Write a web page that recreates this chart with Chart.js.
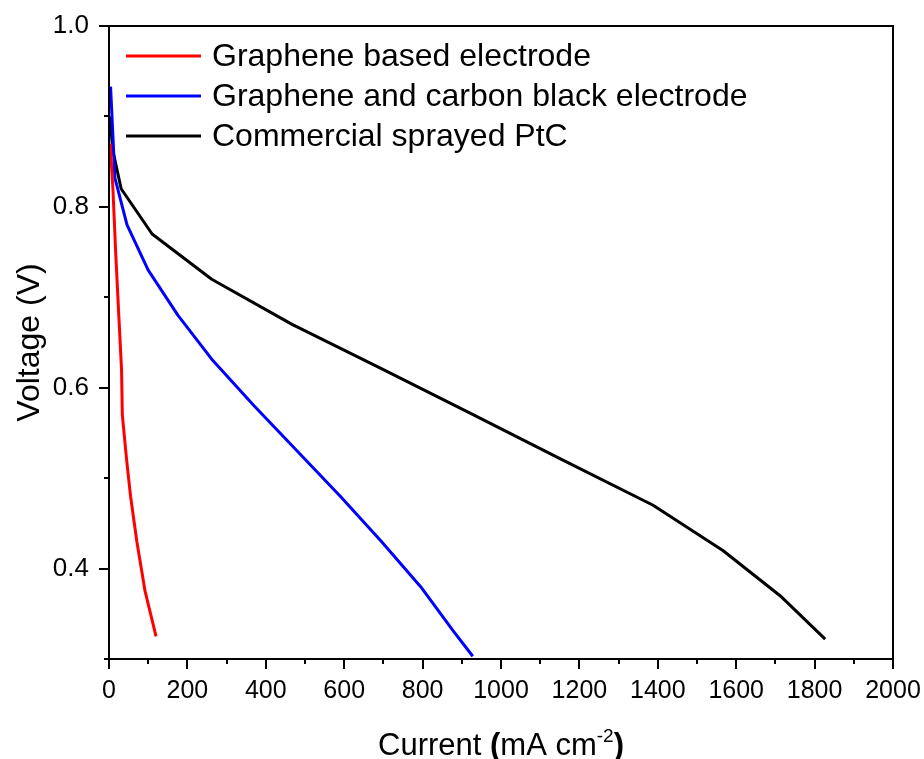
<!DOCTYPE html>
<html lang="en">
<head>
    <meta charset="UTF-8">
    <title>Polarization curves</title>
    <script src="https://cdn.jsdelivr.net/npm/chart.js"></script>
    <style>
        html, body { margin: 0; padding: 0; background: #fff; }
        #wrap { width: 924px; height: 759px; position: relative; }
    </style>
</head>
<body>
    <div id="wrap"><canvas id="polChart"></canvas></div>

    <script>
        // Series names
        const seriesNames = [
            'Graphene based electrode',
            'Graphene and carbon black electrode',
            'Commercial sprayed PtC'
        ];

        // Graphene based electrode (current mA cm-2, voltage V)
        const grapheneCurrent = [3, 10, 17, 25, 32, 34, 45, 55, 71, 92, 120];
        const grapheneVoltage = [0.87, 0.82, 0.75, 0.68, 0.62, 0.57, 0.52, 0.48, 0.43, 0.375, 0.325];

        // Graphene and carbon black electrode
        const carbonCurrent = [4, 15, 46, 100, 176, 265, 370, 480, 590, 695, 795, 880, 928];
        const carbonVoltage = [0.933, 0.832, 0.78, 0.73, 0.68, 0.63, 0.58, 0.53, 0.48, 0.43, 0.38, 0.33, 0.303];

        // Commercial sprayed PtC
        const ptcCurrent = [2, 10, 31, 110, 262, 467, 700, 930, 1158, 1388, 1566, 1712, 1827];
        const ptcVoltage = [0.9, 0.862, 0.82, 0.77, 0.72, 0.67, 0.62, 0.57, 0.52, 0.47, 0.42, 0.37, 0.322];

        // Axis ticks
        const xMajorTicks = [0, 200, 400, 600, 800, 1000, 1200, 1400, 1600, 1800, 2000];
        const xMinorTicks = [100, 300, 500, 700, 900, 1100, 1300, 1500, 1700, 1900];
        const yMajorTicks = [0.4, 0.6, 0.8, 1.0];
        const yMinorTicks = [0.3, 0.5, 0.7, 0.9];

        const colors = ['#ff0000', '#0000ff', '#000000'];
        const FONT = '"Liberation Sans", Arial, sans-serif';

        function toPoints(xs, ys) {
            return xs.map((x, i) => ({ x: x, y: ys[i] }));
        }

        // Frame, tick marks, axis titles and legend
        const decorations = {
            id: 'decorations',
            afterDraw(chart) {
                const ctx = chart.ctx;
                const area = chart.chartArea;
                const xs = chart.scales.x;
                const ys = chart.scales.y;
                ctx.save();
                ctx.strokeStyle = '#000';
                ctx.lineWidth = 2;
                ctx.strokeRect(area.left, area.top, area.right - area.left, area.bottom - area.top);

                ctx.beginPath();
                xMajorTicks.forEach(v => {
                    const px = Math.round(xs.getPixelForValue(v));
                    ctx.moveTo(px, area.bottom); ctx.lineTo(px, area.bottom + 10);
                });
                xMinorTicks.forEach(v => {
                    const px = Math.round(xs.getPixelForValue(v));
                    ctx.moveTo(px, area.bottom); ctx.lineTo(px, area.bottom + 5);
                });
                yMajorTicks.forEach(v => {
                    const py = Math.round(ys.getPixelForValue(v));
                    ctx.moveTo(area.left, py); ctx.lineTo(area.left - 10, py);
                });
                yMinorTicks.forEach(v => {
                    const py = Math.round(ys.getPixelForValue(v));
                    ctx.moveTo(area.left, py); ctx.lineTo(area.left - 5, py);
                });
                ctx.stroke();

                // x axis title with superscript
                ctx.fillStyle = '#000';
                ctx.textBaseline = 'alphabetic';
                const parts = [
                    { t: 'Current ', f: '31px ' + FONT, dy: 0 },
                    { t: '(', f: 'bold 31px ' + FONT, dy: 0 },
                    { t: 'mA cm', f: '31px ' + FONT, dy: 0 },
                    { t: '-2', f: '19px ' + FONT, dy: -13 },
                    { t: ')', f: 'bold 31px ' + FONT, dy: 0 }
                ];
                let total = 0;
                parts.forEach(p => { ctx.font = p.f; p.w = ctx.measureText(p.t).width; total += p.w; });
                let cx = (area.left + area.right) / 2 - total / 2;
                const baseY = 755;
                ctx.textAlign = 'left';
                parts.forEach(p => {
                    ctx.font = p.f;
                    ctx.fillText(p.t, cx, baseY + p.dy);
                    cx += p.w;
                });

                // y axis title
                ctx.save();
                ctx.translate(30, (area.top + area.bottom) / 2);
                ctx.rotate(-Math.PI / 2);
                ctx.font = '32px ' + FONT;
                ctx.textAlign = 'center';
                ctx.textBaseline = 'middle';
                ctx.fillText('Voltage (V)', 0, 0);
                ctx.restore();

                // legend
                ctx.font = '32px ' + FONT;
                ctx.textAlign = 'left';
                ctx.textBaseline = 'middle';
                chart.data.datasets.forEach((ds, i) => {
                    const y = area.top + 30 + i * 40;
                    ctx.strokeStyle = ds.borderColor;
                    ctx.lineWidth = 3;
                    ctx.beginPath();
                    ctx.moveTo(area.left + 17, y);
                    ctx.lineTo(area.left + 92, y);
                    ctx.stroke();
                    ctx.fillStyle = '#000';
                    ctx.fillText(ds.label, area.left + 103, y + 1);
                });
                ctx.restore();
            }
        };

        const ctx = document.getElementById('polChart').getContext('2d');
        new Chart(ctx, {
            type: 'line',
            data: {
                datasets: [
                    { label: seriesNames[0], data: toPoints(grapheneCurrent, grapheneVoltage), borderColor: colors[0] },
                    { label: seriesNames[1], data: toPoints(carbonCurrent, carbonVoltage), borderColor: colors[1] },
                    { label: seriesNames[2], data: toPoints(ptcCurrent, ptcVoltage), borderColor: colors[2] }
                ].map(ds => Object.assign(ds, {
                    borderWidth: 3,
                    pointRadius: 0,
                    tension: 0,
                    fill: false,
                    borderJoinStyle: 'round'
                }))
            },
            options: {
                responsive: true,
                maintainAspectRatio: false,
                animation: false,
                layout: { padding: { top: 26, right: 31, left: 0, bottom: 0 } },
                scales: {
                    x: {
                        type: 'linear',
                        min: 0,
                        max: 2000,
                        afterFit: s => { s.height = 100; s.paddingLeft = 0; s.paddingRight = 0; },
                        afterBuildTicks: s => { s.ticks = xMajorTicks.map(v => ({ value: v })); },
                        grid: { display: false },
                        border: { display: false },
                        ticks: {
                            padding: 9,
                            color: '#000',
                            font: { family: FONT, size: 25 },
                            maxRotation: 0,
                            autoSkip: false,
                            callback: v => String(v)
                        }
                    },
                    y: {
                        type: 'linear',
                        min: 0.3,
                        max: 1.0,
                        afterFit: s => { s.width = 109; s.paddingTop = 0; s.paddingBottom = 0; },
                        afterBuildTicks: s => { s.ticks = yMajorTicks.map(v => ({ value: v })); },
                        grid: { display: false },
                        border: { display: false },
                        ticks: {
                            padding: 12,
                            color: '#000',
                            font: { family: FONT, size: 26 },
                            callback: v => v.toFixed(1)
                        }
                    }
                },
                plugins: {
                    legend: { display: false },
                    tooltip: { enabled: false }
                }
            },
            plugins: [decorations]
        });
    </script>
</body>
</html>
